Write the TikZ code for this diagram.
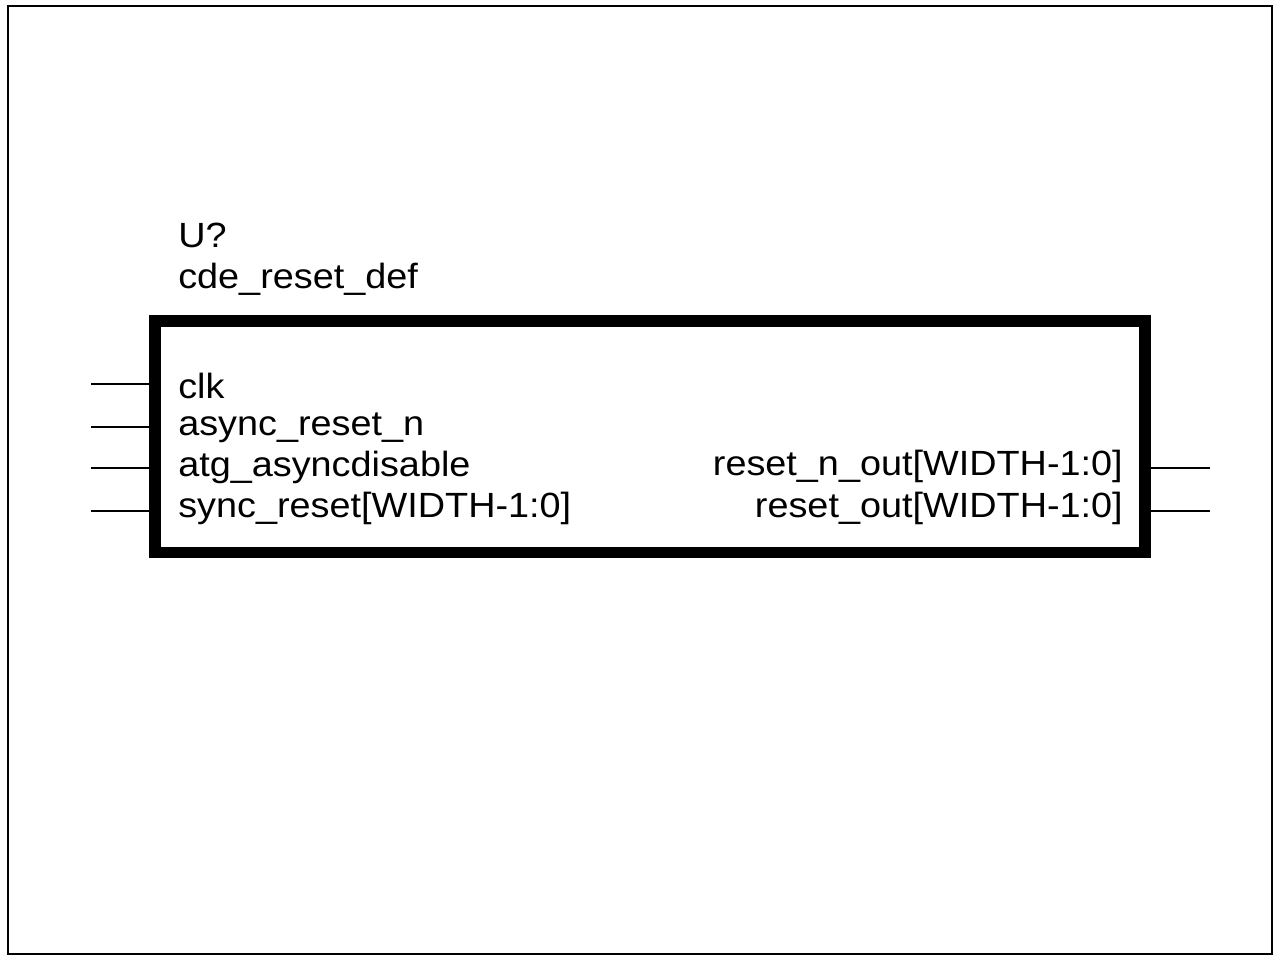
\documentclass[tikz,border=0pt]{standalone}
\usepackage{fontspec}
\setmainfont{Liberation Sans}
\newfontfamily\pinfont[FakeStretch=1.08]{Liberation Sans}
\usetikzlibrary{calc,positioning}

\begin{document}
\begin{tikzpicture}[x=0.025cm,y=-0.025cm,
	pin/.style={line width=1.4pt},
	lbl/.style={inner sep=0pt,font=\pinfont\fontsize{24.9}{30}\selectfont}]
	\useasboundingbox (0,0) rectangle (1280,960);
	\draw[line width=0.95pt] (8,6) rectangle (1272,954);
	% symbol body
	\node[draw,line width=8.2pt,minimum width=24.75cm,minimum height=5.79cm,inner sep=0pt] (box) at (650,436.75) {};
	\node[lbl,anchor=base west] (ref) at (178,247) {U?};
	\node[lbl,anchor=base west] (part) at (178,288) {cde\_reset\_def};
	% inputs
	\foreach \name/\txt/\y/\b in {clk/clk/384/398,arst/async\_reset\_n/427/435,atg/atg\_asyncdisable/468/476,srst/sync\_reset[WIDTH-1:0]/511/517}
	{
		\coordinate (\name end) at (91,\y);
		\draw[pin] (\name end) -- (\name end -| box.west);
		\node[lbl,anchor=base west] (\name) at (178,\b) {\txt};
	}
	% outputs
	\foreach \name/\txt/\y/\b in {rnout/reset\_n\_out[WIDTH-1:0]/468/475,rout/reset\_out[WIDTH-1:0]/511/517}
	{
		\coordinate (\name end) at (1210,\y);
		\draw[pin] (\name end -| box.east) -- (\name end);
		\node[lbl,anchor=base east] (\name) at (1123,\b) {\txt};
	}
\end{tikzpicture}
\end{document}
